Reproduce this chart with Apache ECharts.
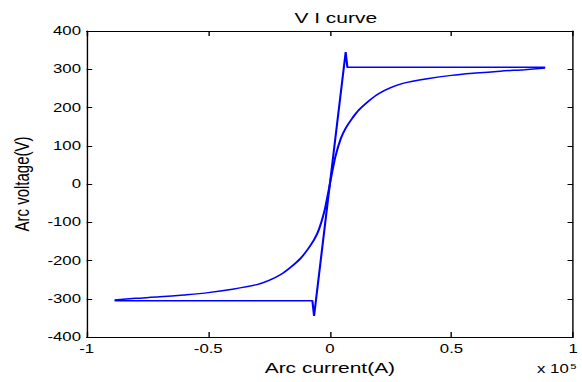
<!DOCTYPE html>
<html>
<head>
<meta charset="utf-8">
<script src="https://cdn.jsdelivr.net/npm/echarts@6/dist/echarts.min.js"></script>
<style>
html, body { margin: 0; padding: 0; background: #fff; overflow: hidden; }
/* the reference picture is stretched sideways, so the chart is too */
#main { width: 416px; height: 382px; transform: scaleX(1.399); transform-origin: 0 0; }
</style>
</head>
<body>
<div id="main"></div>
<script>
// current in units of 1e5 A, voltage in V
var curveI = [-0.885, -0.8, -0.7, -0.6, -0.5, -0.4, -0.3, -0.25, -0.2, -0.16, -0.12, -0.09, -0.065, -0.045, -0.024, -0.01, 0,
  0.01, 0.024, 0.045, 0.065, 0.09, 0.12, 0.16, 0.2, 0.25, 0.3, 0.4, 0.5, 0.6, 0.7, 0.8, 0.885];
var curveV = [-303, -299, -295, -290, -284, -275, -263, -252, -236, -217, -194, -170, -146, -119, -75, -33, 0,
  33, 75, 119, 146, 170, 194, 217, 236, 252, 263, 275, 284, 290, 295, 299, 303];
// flat + steep branch of the loop
var branchI = [0.885, 0.072, 0.065, 0, -0.065, -0.072, -0.885];
var branchV = [305, 305, 345, 0, -345, -305, -305];
var xTicks = [-1, -0.5, 0, 0.5, 1];
var yTicks = [-400, -300, -200, -100, 0, 100, 200, 300, 400];

function pairs(xs, ys) {
  return xs.map(function (x, i) { return [x, ys[i]]; });
}

var chart = echarts.init(document.getElementById('main'), null, { renderer: 'svg' });
var font = 'Liberation Sans, Arial, sans-serif';

function xAxisBase(pos) {
  return {
    type: 'value', position: pos,
    min: xTicks[0], max: xTicks[xTicks.length - 1], interval: 0.5,
    axisLine: { show: true, onZero: false, lineStyle: { color: '#000', width: 1 } },
    axisTick: { show: true, inside: true, length: 5, lineStyle: { color: '#000' } },
    splitLine: { show: false }
  };
}
function yAxisBase(pos) {
  return {
    type: 'value', position: pos,
    min: yTicks[0], max: yTicks[yTicks.length - 1], interval: 100,
    axisLine: { show: true, onZero: false, lineStyle: { color: '#000', width: 1 } },
    axisTick: { show: true, inside: true, length: 4, lineStyle: { color: '#000' } },
    splitLine: { show: false }
  };
}

var xBottom = xAxisBase('bottom');
xBottom.axisLabel = { color: '#000', fontFamily: font, fontSize: 12, margin: 6 };
xBottom.name = 'Arc current(A)';
xBottom.nameLocation = 'middle';
xBottom.nameGap = 22;
xBottom.nameTextStyle = { color: '#000', fontFamily: font, fontSize: 15 };
var xTop = xAxisBase('top');
xTop.axisLabel = { show: false };

var yLeft = yAxisBase('left');
yLeft.axisLabel = { color: '#000', fontFamily: font, fontSize: 12, margin: 4 };
yLeft.name = 'Arc voltage(V)';
yLeft.nameLocation = 'middle';
yLeft.nameGap = 34;
yLeft.nameTextStyle = { color: '#000', fontFamily: font, fontSize: 15 };
var yRight = yAxisBase('right');
yRight.axisLabel = { show: false };

var option = {
  animation: false,
  backgroundColor: '#fff',
  title: {
    text: 'V I curve',
    left: 235, top: 5, textAlign: 'center',
    textStyle: { color: '#000', fontFamily: font, fontSize: 15, fontWeight: 'normal' }
  },
  grid: { left: 59, right: 5, top: 31, bottom: 45 },
  xAxis: [xBottom, xTop],
  yAxis: [yLeft, yRight],
  graphic: [{
    type: 'text', right: 4, top: 362,
    style: {
      text: '{a|x 10}{b|5}',
      rich: {
        a: { fontFamily: font, fontSize: 12, fill: '#000' },
        b: { fontFamily: font, fontSize: 8, fill: '#000', verticalAlign: 'top', padding: [0, 0, 6, 1] }
      }
    }
  }],
  series: [{
    type: 'line',
    data: pairs(curveI, curveV),
    showSymbol: false,
    smooth: 0.3,
    lineStyle: { color: '#0000ff', width: 1.5 }
  }, {
    type: 'line',
    data: pairs(branchI, branchV),
    showSymbol: false,
    lineStyle: { color: '#0000ff', width: 1.5 }
  }]
};

chart.setOption(option);
</script>
</body>
</html>
